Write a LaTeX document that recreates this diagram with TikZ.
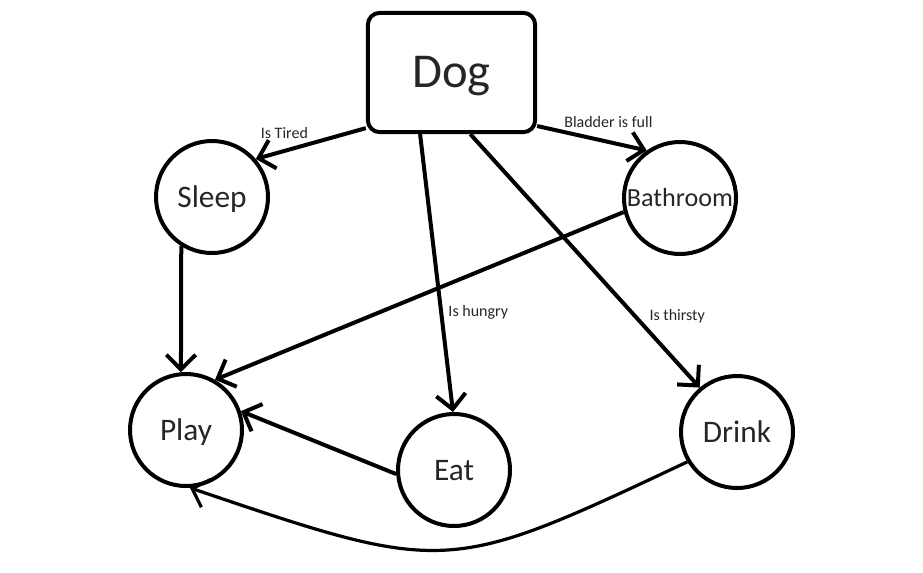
\documentclass[tikz,border=0pt]{standalone}
\usepackage{fontspec}
\setmainfont{Carlito}
\usepackage{tikz}
\usetikzlibrary{arrows.meta}
\definecolor{ink}{RGB}{0,0,0}
\definecolor{textgrey}{RGB}{38,38,38}
\tikzset{
  boxnode/.style={draw=ink,line width=3pt,rounded corners=9pt,minimum width=125.5pt,minimum height=89.5pt,inner sep=0pt,text height=23pt,text depth=0pt,text=textgrey,font=\fontsize{36.5}{40}\selectfont},
  activity/.style={circle,draw=ink,line width=3pt,minimum size=84pt,inner sep=0pt,text height=15pt,text depth=0pt,text=textgrey,font=\fontsize{23.5}{26}\selectfont},
  arr/.style={-{Straight Barb[length=11pt,width=22pt]},draw=ink,line width=3pt},
  cond/.style={text=textgrey,font=\fontsize{12}{14}\selectfont,inner sep=1pt}
}
\begin{document}
\begin{tikzpicture}[x=0.75pt,y=-0.75pt]
  \useasboundingbox (0,0) rectangle (923,572);
  \node[boxnode] (dog) at (451.5,72.5) {Dog};
  \node[activity] (sleep) at (212,197) {Sleep};
  \node[activity,text height=12.5pt,font=\fontsize{19.6}{22}\selectfont] (bath) at (680,198) {Bathroom};
  \node[activity] (play) at (186,430) {Play};
  \node[activity] (eat) at (454,470) {Eat};
  \node[activity] (drink) at (737,432) {Drink};
  \coordinate (dip) at (447,575);
  \draw[arr] (dog.213) -- node[cond,pos=0.74,above=7pt] {Is Tired} (sleep.41);
  \draw[arr] (dog.-32) -- node[cond,pos=0.65,above=8pt] {Bladder is full} (bath.125);
  \draw[arr] (dog.243) -- node[cond,pos=0.64,right=3pt] {Is hungry} (eat.91);
  \draw[arr] (dog.287) -- node[cond,pos=0.72,right=8pt] {Is thirsty} (drink.130);
  \draw[arr] (sleep.238) -- (play.95);
  \draw[arr] (bath.194) -- (play.60);
  \draw[arr] (eat.184) -- (play.19);
  \draw[arr,line width=2.4pt] (drink.211) .. controls (dip) .. (play.274);
\end{tikzpicture}
\end{document}
